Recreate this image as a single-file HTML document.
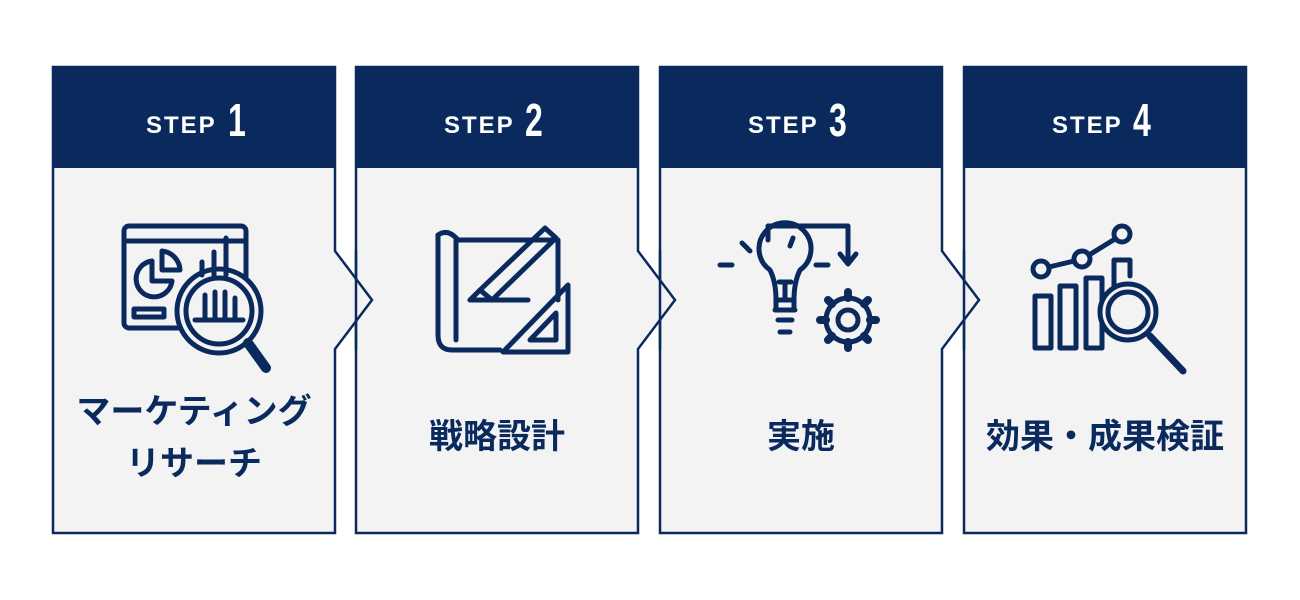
<!DOCTYPE html>
<html><head><meta charset="utf-8"><style>
html,body{margin:0;padding:0;background:#fff;width:1300px;height:600px;overflow:hidden}
</style></head><body>
<svg width="1300" height="600" viewBox="0 0 1300 600" xmlns="http://www.w3.org/2000/svg">
<defs>
<g id="card">
  <path d="M0,0 H282 V184 L319,233 L282,282 V466 H0 Z" fill="#f3f3f3" stroke="#0a2a5e" stroke-width="2.5"/>
  <rect x="-1" y="-1" width="284" height="102" fill="#0a2a5e"/>
</g>
<g id="card4">
  <path d="M0,0 H282 V466 H0 Z" fill="#f3f3f3" stroke="#0a2a5e" stroke-width="2.5"/>
  <rect x="-1" y="-1" width="284" height="102" fill="#0a2a5e"/>
</g>
</defs>
<use href="#card4" x="964" y="67"/>
<use href="#card" x="660" y="67"/>
<use href="#card" x="356" y="67"/>
<use href="#card" x="53" y="67"/>
<g stroke="#0a2a5e" stroke-width="2.5">
<line x1="356" y1="250" x2="356" y2="350"/>
<line x1="660" y1="250" x2="660" y2="350"/>
<line x1="964" y1="250" x2="964" y2="350"/>
</g>
<g font-family="Liberation Sans, sans-serif" font-weight="bold" fill="#fff" letter-spacing="2">
<text x="146" y="133" font-size="24">STEP</text><text transform="translate(228,136) scale(0.8,1.15)" font-size="40" letter-spacing="0">1</text>
<text x="444" y="133" font-size="24">STEP</text><text transform="translate(525,136) scale(0.8,1.15)" font-size="40" letter-spacing="0">2</text>
<text x="748" y="133" font-size="24">STEP</text><text transform="translate(829,136) scale(0.8,1.15)" font-size="40" letter-spacing="0">3</text>
<text x="1052" y="133" font-size="24">STEP</text><text transform="translate(1133,136) scale(0.8,1.15)" font-size="40" letter-spacing="0">4</text>
</g>
<g font-family="Liberation Sans, Noto Sans CJK JP, sans-serif" font-weight="bold" fill="#0a2a5e" font-size="34" text-anchor="middle">
<text x="194" y="423">マーケティング</text>
<text x="194" y="475">リサーチ</text>
<text x="497" y="448">戦略設計</text>
<text x="801" y="448">実施</text>
<text x="1105" y="448">効果・成果検証</text>
</g>
<g fill="none" stroke="#0a2a5e" stroke-width="5" stroke-linecap="round" stroke-linejoin="round">
  <rect x="124" y="226" width="122" height="102" rx="5"/>
  <line x1="124" y1="241" x2="246" y2="241"/>
  <path d="M152,261 A18,18 0 1,0 172,281 L152,281 Z"/>
  <path d="M162,251 A20,20 0 0,1 180,270 L162,270 Z"/>
  <rect x="134" y="309" width="30" height="8"/>
  <circle cx="219" cy="311" r="42" fill="#f3f3f3"/>
  <circle cx="219" cy="311" r="33"/>
  <line x1="195" y1="320" x2="243" y2="320"/>
  <path d="M205,320 V295 M215,320 V292 M225,320 V292 M235,320 V298"/>
  <line x1="248" y1="343" x2="266" y2="368" stroke-width="10"/>
  <path d="M202,275 V262 M214,275 V252 M226,275 V238"/>
  <path d="M438,235 V335 Q438,350 452,350 H500"/>
  <path d="M438,235 Q448,228 458,240 H558 V300"/>
  <path d="M456,240 V340"/>
  <path d="M480,290 L545,228 L556,238 L492,300 Z"/>
  <path d="M470,300 L480,290 L492,300 Z"/>
  <line x1="470" y1="300" x2="528" y2="300"/>
  <path d="M503,352 L568,285 V352 Z"/>
  <path d="M530,340 L556,313 V340 Z"/>
  <path d="M770,270 A26,26 0 1,1 800,270 Q794,282 794,300 H776 Q776,282 770,270 Z"/>
  <path d="M775,310 H795 M778,320 H792 M780,332 H790"/>
  <path d="M776,300 V310 M794,300 V310"/>
  <path d="M785,300 V282 M779,282 H791"/>
  <path d="M768,240 V226 H848 V262 M840,254 L848,264 L856,254"/>
  <path d="M742,243 L750,251 M720,265 L732,265 M828,265 L816,265 M793,238 L790,246"/>
  <circle cx="848" cy="320" r="22"/>
  <circle cx="848" cy="320" r="10"/>
  <path d="M848,292 V298 M848,342 V348 M820,320 H826 M870,320 H876 M828,300 L832,304 M864,336 L868,340 M868,300 L864,304 M828,340 L832,336" stroke-width="8"/>
  <circle cx="1041" cy="269" r="8"/>
  <circle cx="1082" cy="259" r="8"/>
  <circle cx="1122" cy="234" r="8"/>
  <path d="M1049,267 L1074,261 M1089,255 L1115,239"/>
  <rect x="1035" y="296" width="16" height="52"/>
  <rect x="1060" y="286" width="16" height="62"/>
  <rect x="1086" y="278" width="16" height="70"/>
  <path d="M1114,290 V260 H1130 V276"/>
  <circle cx="1128" cy="312" r="28" fill="#f3f3f3"/>
  <circle cx="1128" cy="312" r="20"/>
  <line x1="1150" y1="336" x2="1183" y2="371" stroke-width="7"/>
</g>
</svg>
</body></html>
